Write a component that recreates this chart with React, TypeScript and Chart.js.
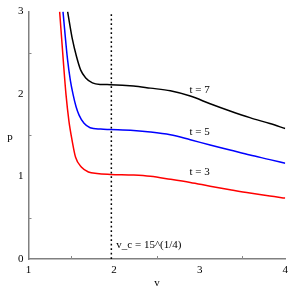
import React, { useEffect, useRef } from "react";
import { Chart, registerables } from "chart.js";

Chart.register(...registerables);

// Data
const vRed = [1.364, 1.407, 1.438, 1.472, 1.51, 1.55, 1.62, 1.7, 1.8, 1.959, 2.23, 2.424, 2.657, 2.89, 3.122, 3.355, 3.587, 3.82, 4.0];
const pRed = [3.0, 2.398, 1.996, 1.675, 1.434, 1.233, 1.112, 1.055, 1.036, 1.026, 1.018, 1.003, 0.967, 0.928, 0.883, 0.84, 0.799, 0.763, 0.739];

const vBlue = [1.403, 1.456, 1.49, 1.52, 1.555, 1.591, 1.649, 1.72, 1.843, 1.959, 2.227, 2.424, 2.657, 2.89, 3.122, 3.355, 3.587, 3.82, 4.0];
const pBlue = [3.0, 2.42, 2.16, 2.0, 1.85, 1.745, 1.645, 1.592, 1.575, 1.57, 1.558, 1.54, 1.506, 1.446, 1.382, 1.322, 1.261, 1.205, 1.16];

const vBlack = [1.457, 1.514, 1.56, 1.61, 1.669, 1.747, 1.843, 1.959, 2.227, 2.424, 2.657, 2.89, 3.122, 3.355, 3.587, 3.82, 4.0];
const pBlack = [3.0, 2.659, 2.458, 2.29, 2.196, 2.136, 2.117, 2.114, 2.098, 2.072, 2.04, 1.976, 1.883, 1.795, 1.714, 1.642, 1.582];

const vCritical = 1.968; // 15^(1/4)
const seriesLabels = ["t = 3", "t = 5", "t = 7"];
const xTicks = [1, 2, 3, 4];
const yTicks = [0, 1, 2, 3];
const xMinorTicks = [1.5, 2.5, 3.5];
const yMinorTicks = [0.5, 1.5, 2.5];

// annotation anchors (data units)
const labelV = 3.0;
const labelP = [1.048, 1.542, 2.048];
const vcLabelText = "v_c = 15^(1/4)";
const vcLabelP = 0.169;

const toPts = (vs: number[], ps: number[]) => vs.map((v, i) => ({ x: v, y: ps[i] }));

const FONT = '11px "Liberation Serif", "DejaVu Serif", serif';

export default function App() {
  const ref = useRef<HTMLCanvasElement | null>(null);

  useEffect(() => {
    document.body.style.margin = "0";
    const canvas = ref.current;
    if (!canvas) return;

    const annotate = {
      id: "annotate",
      afterDatasetsDraw(chart: any) {
        const ctx = chart.ctx;
        const xs = chart.scales.x;
        const ys = chart.scales.y;
        const area = chart.chartArea;
        ctx.save();
        // minor ticks pointing inward
        ctx.strokeStyle = "#888";
        ctx.lineWidth = 1;
        xMinorTicks.forEach((t) => {
          const px = Math.round(xs.getPixelForValue(t)) + 0.5;
          ctx.beginPath();
          ctx.moveTo(px, area.bottom);
          ctx.lineTo(px, area.bottom - 3);
          ctx.stroke();
        });
        yMinorTicks.forEach((t) => {
          const py = Math.round(ys.getPixelForValue(t)) + 0.5;
          ctx.beginPath();
          ctx.moveTo(area.left, py);
          ctx.lineTo(area.left + 3, py);
          ctx.stroke();
        });
        ctx.fillStyle = "#000";
        ctx.font = FONT;
        ctx.textBaseline = "middle";
        ctx.textAlign = "center";
        seriesLabels.forEach((s, i) => {
          ctx.fillText(s, xs.getPixelForValue(labelV), ys.getPixelForValue(labelP[i]));
        });
        ctx.textAlign = "left";
        ctx.fillText(vcLabelText, xs.getPixelForValue(vCritical) + 5, ys.getPixelForValue(vcLabelP));
        // axis titles
        ctx.textAlign = "center";
        ctx.fillText("p", 10, (area.top + area.bottom) / 2 + 2);
        ctx.fillText("v", (area.left + area.right) / 2, 283);
        ctx.restore();
      },
    };

    const line = (vs: number[], ps: number[], color: string) => ({
      data: toPts(vs, ps),
      showLine: true,
      borderColor: color,
      borderWidth: 1.5,
      pointRadius: 0,
      cubicInterpolationMode: "monotone",
    });

    const chart = new Chart(canvas, {
      type: "scatter",
      data: {
        datasets: [
          {
            data: toPts([vCritical, vCritical], [0, 3]),
            showLine: true,
            borderColor: "#000",
            borderWidth: 1.5,
            borderDash: [1.8, 2.7],
            pointRadius: 0,
          },
          line(vRed, pRed, "#ff0000"),
          line(vBlue, pBlue, "#0000ff"),
          line(vBlack, pBlack, "#000000"),
        ],
      },
      options: {
        responsive: false,
        animation: false,
        layout: { padding: { top: 10, right: 7.5, left: 0, bottom: 0 } },
        plugins: { legend: { display: false }, tooltip: { enabled: false } },
        scales: {
          x: {
            type: "linear",
            min: 1,
            max: 4,
            afterFit: (s: any) => {
              s.height = 34;
            },
            afterBuildTicks: (s: any) => {
              s.ticks = xTicks.map((v) => ({ value: v }));
            },
            grid: { display: false, drawTicks: false },
            border: { display: true, color: "#808080", width: 1.5 },
            ticks: {
              padding: 5,
              color: "#000",
              font: { family: '"Liberation Serif", serif', size: 11 },
              maxRotation: 0,
              autoSkip: false,
            },
          },
          y: {
            type: "linear",
            min: 0,
            max: 3,
            afterFit: (s: any) => {
              s.width = 28.5;
            },
            afterBuildTicks: (s: any) => {
              s.ticks = yTicks.map((v) => ({ value: v }));
            },
            grid: { display: false, drawTicks: false },
            border: { display: true, color: "#808080", width: 1.5 },
            ticks: {
              padding: 5,
              color: "#000",
              font: { family: '"Liberation Serif", serif', size: 11 },
              autoSkip: false,
            },
          },
        },
      },
      plugins: [annotate],
    } as any);

    return () => chart.destroy();
  }, []);

  return (
    <div style={{ width: 293, height: 293 }}>
      <canvas ref={ref} width={293} height={293} style={{ display: "block", width: 293, height: 293 }} />
    </div>
  );
}
